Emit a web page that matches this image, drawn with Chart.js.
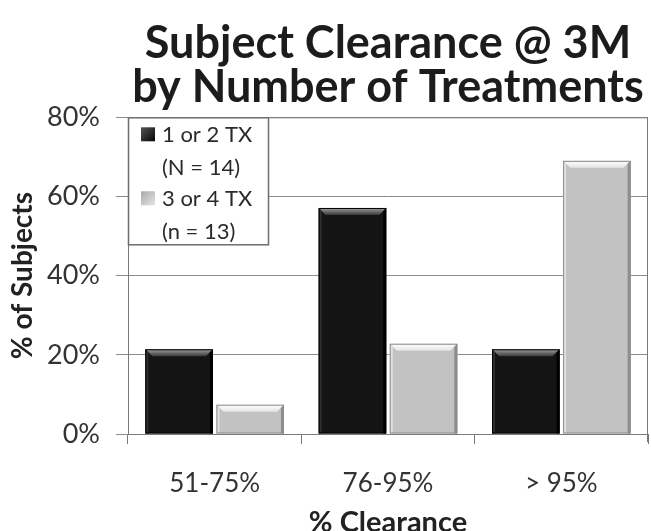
<!DOCTYPE html>
<html>
<head>
<meta charset="utf-8">
<script src="https://cdn.jsdelivr.net/npm/chart.js@4"></script>
<style>
  html, body { margin: 0; padding: 0; background: #fff; }
  #wrap { width: 651px; height: 531px; position: relative; }
</style>
</head>
<body>
<div id="wrap"><canvas id="chart"></canvas></div>
<script>
const categories = ["51-75%", "76-95%", "> 95%"];
const tx12 = [21.4, 57.1, 21.4];
const tx34 = [7.4, 22.8, 69.0];
const tx12Label = ["1 or 2 TX", "(N = 14)"];
const tx34Label = ["3 or 4 TX", "(n = 13)"];
const titleLines = ["Subject Clearance @ 3M", "by Number of Treatments"];

const FONT = "Lato";

// bevel look on the bars (like the office 3d bevel effect)
const bevelPlugin = {
  id: "bevel",
  afterDatasetsDraw(chart) {
    const ctx = chart.ctx;
    chart.data.datasets.forEach((ds, di) => {
      const meta = chart.getDatasetMeta(di);
      const dark = di === 0;
      meta.data.forEach((bar) => {
        const p = bar.getProps(["x", "y", "base", "width"], true);
        const l = p.x - p.width / 2, r = p.x + p.width / 2;
        const t = p.y, b = p.base;
        const bv = 7;
        ctx.save();
        // top bevel
        ctx.beginPath();
        ctx.moveTo(l, t); ctx.lineTo(r, t);
        ctx.lineTo(r - bv, t + bv); ctx.lineTo(l + bv, t + bv);
        ctx.closePath();
        const g = ctx.createLinearGradient(0, t, 0, t + bv);
        if (dark) { g.addColorStop(0, "#a0a0a0"); g.addColorStop(1, "#3a3a3a"); }
        else { g.addColorStop(0, "#ffffff"); g.addColorStop(1, "#e4e4e4"); }
        ctx.fillStyle = g;
        ctx.fill();
        // right edge shade
        ctx.beginPath();
        ctx.moveTo(r, t); ctx.lineTo(r, b); ctx.lineTo(r - 3, b); ctx.lineTo(r - 3, t + 3);
        ctx.closePath();
        ctx.fillStyle = dark ? "#000" : "#8e8e8e";
        ctx.fill();
        // left edge light
        ctx.beginPath();
        ctx.moveTo(l, t); ctx.lineTo(l + 3, t + 3); ctx.lineTo(l + 3, b); ctx.lineTo(l, b);
        ctx.closePath();
        ctx.fillStyle = dark ? "#2e2e2e" : "#e2e2e2";
        ctx.fill();
        ctx.strokeStyle = dark ? "#000" : "#8a8a8a";
        ctx.lineWidth = 1;
        ctx.strokeRect(l + 0.5, t + 0.5, p.width - 1, b - t - 1);
        ctx.restore();
      });
    });
  },
};

// plot frame (top + right) and boxed legend in the upper left corner
const framePlugin = {
  id: "frame",
  afterDraw(chart) {
    const ctx = chart.ctx;
    const a = chart.chartArea;
    ctx.save();
    ctx.strokeStyle = "#7a7a7a";
    ctx.lineWidth = 1;
    ctx.beginPath();
    ctx.moveTo(a.left, a.top + 0.5);
    ctx.lineTo(a.right - 0.5, a.top + 0.5);
    ctx.lineTo(a.right - 0.5, a.bottom + 8);
    ctx.stroke();

    const lx = a.left, ly = a.top, lw = 140, lh = 127;
    ctx.fillStyle = "#fff";
    ctx.fillRect(lx, ly, lw, lh);
    ctx.strokeStyle = "#6e6e6e";
    ctx.lineWidth = 1.5;
    ctx.strokeRect(lx + 0.5, ly + 0.5, lw, lh);

    ctx.font = "22px " + FONT;
    ctx.textBaseline = "middle";
    const rows = [17, 50, 81, 114];
    chart.data.datasets.forEach((ds, i) => {
      const y1 = ly + rows[i * 2], y2 = ly + rows[i * 2 + 1];
      const sq = ctx.createLinearGradient(lx + 13, y1 - 7, lx + 27, y1 + 7);
      if (i === 0) { sq.addColorStop(0, "#555"); sq.addColorStop(1, "#050505"); }
      else { sq.addColorStop(0, "#a8a8a8"); sq.addColorStop(1, "#e6e6e6"); }
      ctx.fillStyle = sq;
      ctx.fillRect(lx + 13, y1 - 7, 14, 14);
      ctx.fillStyle = "#2a2a2a";
      ctx.fillText(ds.label[0], lx + 34, y1 + 1);
      ctx.fillText(ds.label[1], lx + 34, y2 + 1);
    });
    ctx.restore();
  },
};

new Chart(document.getElementById("chart"), {
  type: "bar",
  data: {
    labels: categories,
    datasets: [
      { label: tx12Label, data: tx12, backgroundColor: "#141414" },
      { label: tx34Label, data: tx34, backgroundColor: "#c2c2c2" },
    ],
  },
  options: {
    responsive: true,
    maintainAspectRatio: false,
    animation: false,
    devicePixelRatio: 1,
    layout: { padding: { left: 0, right: 3, top: 0, bottom: 0 } },
    datasets: { bar: { categoryPercentage: 0.82, barPercentage: 0.95 } },
    plugins: {
      legend: { display: false },
      tooltip: { enabled: false },
      title: {
        display: true,
        fullSize: false,
        text: titleLines,
        color: "#1c1c1c",
        font: { family: FONT, size: 45, weight: "bold", lineHeight: 0.97 },
        padding: { top: 22, bottom: 8 },
      },
    },
    scales: {
      x: {
        grid: { display: true, offset: true, drawOnChartArea: false, tickLength: 10, color: "#7a7a7a" },
        border: { display: true, color: "#7a7a7a" },
        ticks: { color: "#333", padding: 24, font: { family: FONT, size: 26 } },
        title: {
          display: true,
          text: "% Clearance",
          color: "#222",
          font: { family: FONT, size: 29, weight: "bold", lineHeight: 0.6 },
          padding: { top: 0, bottom: 0 },
        },
        afterFit(scale) { scale.height = 97; },
      },
      y: {
        min: 0,
        max: 80,
        ticks: {
          stepSize: 20,
          color: "#333",
          padding: 16,
          font: { family: FONT, size: 27 },
          callback: (v) => v + "%",
        },
        grid: { color: "#8c8c8c", tickLength: 12 },
        border: { display: true, color: "#7a7a7a" },
        title: {
          display: true,
          text: "% of Subjects",
          color: "#222",
          font: { family: FONT, size: 28, weight: "bold" },
          padding: { top: 6, bottom: 0 },
        },
        afterFit(scale) { scale.width = 128; },
      },
    },
  },
  plugins: [bevelPlugin, framePlugin],
});
</script>
</body>
</html>
